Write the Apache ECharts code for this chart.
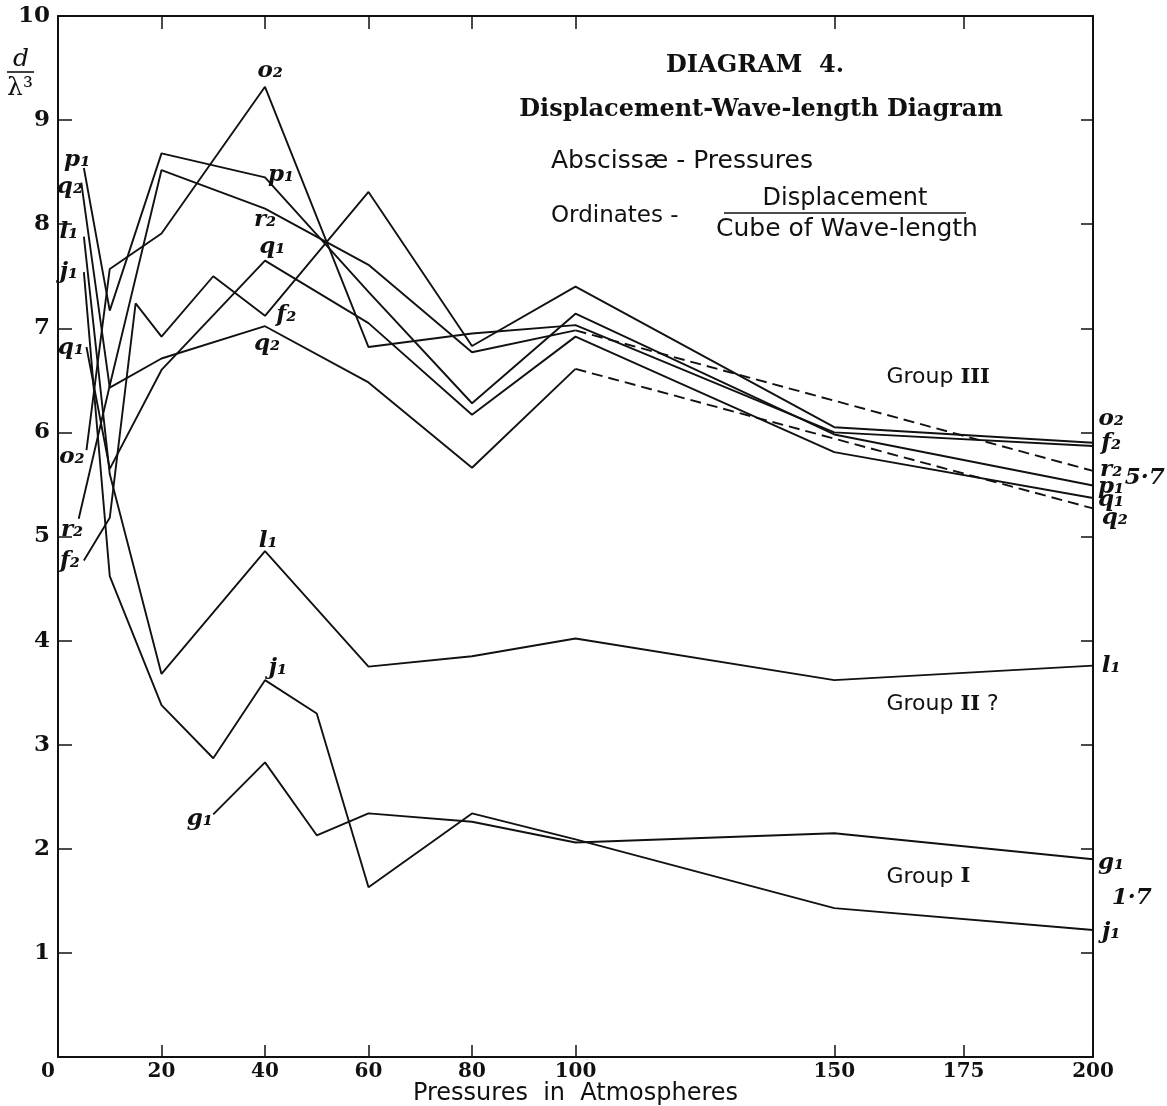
<!DOCTYPE html>
<html><head><meta charset="utf-8">
<script src="https://cdn.jsdelivr.net/npm/echarts@6/dist/echarts.min.js"></script>
<style>html,body{margin:0;padding:0;background:#fff}#chart{width:1167px;height:1106px}</style>
</head><body><div id="chart"></div>
<script>
// Pressure (atm) tick labels and ordinate ticks
const xTicks = [0, 20, 40, 60, 80, 100, 150, 175, 200];
const yTicks = [1, 2, 3, 4, 5, 6, 7, 8, 9, 10];

// Series: [pressure, displacement / cube of wave-length]
const o2 = [[5.5, 5.83], [10, 7.57], [20, 7.91], [40, 9.32], [60, 6.82], [80, 6.95], [100, 7.03], [150, 6.0], [200, 5.87]];
const f2 = [[5, 4.77], [10, 5.18], [15, 7.24], [20, 6.92], [30, 7.5], [40, 7.12], [60, 8.31], [80, 6.83], [100, 7.4], [150, 6.05], [200, 5.9]];
const r2 = [[4, 5.17], [10, 6.45], [20, 8.52], [40, 8.15], [60, 7.61], [80, 6.77], [100, 6.98]];
const r2Dashed = [[100, 6.98], [200, 5.63]];
const p1 = [[5, 8.54], [10, 7.17], [20, 8.68], [40, 8.45], [60, 7.35], [80, 6.28], [100, 7.14], [150, 5.98], [200, 5.49]];
const q1 = [[5.5, 6.82], [10, 5.65], [20, 6.6], [40, 7.65], [60, 7.05], [80, 6.17], [100, 6.92], [150, 5.81], [200, 5.37]];
const q2 = [[4.5, 8.4], [10, 6.43], [20, 6.71], [40, 7.02], [60, 6.48], [80, 5.66], [100, 6.61]];
const q2Dashed = [[100, 6.61], [200, 5.27]];
const l1 = [[5, 7.88], [10, 5.6], [20, 3.68], [40, 4.86], [60, 3.75], [80, 3.85], [100, 4.02], [150, 3.62], [200, 3.76]];
const j1 = [[5, 7.54], [10, 4.62], [20, 3.38], [30, 2.87], [40, 3.62], [50, 3.3], [60, 1.63], [80, 2.34], [100, 2.09], [150, 1.43], [200, 1.22]];
const g1 = [[30, 2.33], [40, 2.83], [50, 2.13], [60, 2.34], [80, 2.26], [100, 2.06], [150, 2.15], [200, 1.9]];

// Curve name labels placed in data space: [pressure, value, text]
const curveLabels = [
  [3.7, 8.62, 'p₁'], [2.3, 8.36, 'q₂'], [2.1, 7.92, 'l₁'], [2.1, 7.54, 'j₁'],
  [2.5, 6.81, 'q₁'], [2.7, 5.76, 'o₂'], [2.7, 5.06, 'r₂'], [2.3, 4.76, 'f₂'],
  [41, 9.47, 'o₂'], [43.1, 8.47, 'p₁'], [40, 8.04, 'r₂'], [41.4, 7.78, 'q₁'],
  [44.1, 7.13, 'f₂'], [40.4, 6.85, 'q₂'], [40.6, 4.96, 'l₁'], [42.5, 3.74, 'j₁'],
  [27.4, 2.29, 'g₁'],
  [203.5, 6.13, 'o₂'], [203.5, 5.9, 'f₂'], [203.5, 5.64, 'r₂'], [210, 5.56, '5·7'],
  [203.5, 5.48, 'p₁'], [203.5, 5.35, 'q₁'], [204.2, 5.18, 'q₂'],
  [203.5, 3.76, 'l₁'], [203.5, 1.86, 'g₁'], [207.5, 1.53, '1·7'], [203.5, 1.2, 'j₁']
];
// Group annotations: [pressure, value, roman numeral, suffix]
const groupLabels = [[160, 6.53, 'III', ''], [160, 3.39, 'II', ' ?'], [160, 1.73, 'I', '']];

const INK = '#111111';
const SANS = '"DejaVu Sans", "Open Sans", sans-serif';
const SERIF = '"DejaVu Serif", serif';
const chart = echarts.init(document.getElementById('chart'), null, {renderer: 'canvas'});

function lineSeries(name, data, dashed) {
  return {
    name: name, type: 'line', data: data, symbol: 'none', silent: true,
    lineStyle: {color: INK, width: 1.9, type: dashed ? [11, 6] : 'solid'},
    z: 3
  };
}

const serifBold = {fontFamily: SERIF, fontWeight: 'bold', color: INK};

const option = {
  animation: false,
  backgroundColor: '#ffffff',
  grid: {left: 58, right: 74, top: 16, bottom: 49, containLabel: false, outerBoundsMode: 'none'},
  xAxis: [{
    type: 'value', min: 0, max: 200, position: 'bottom',
    axisLine: {onZero: false, lineStyle: {color: INK, width: 2}},
    axisTick: {inside: true, length: 12, customValues: xTicks, lineStyle: {color: INK, width: 1.5}},
    axisLabel: Object.assign({customValues: xTicks, fontSize: 20, margin: 5,
      formatter: v => (v === 0 ? '{z|0}' : String(v)),
      rich: {z: {fontFamily: SERIF, fontWeight: 'bold', fontSize: 20, color: INK, padding: [0, 20, 0, 0]}}
    }, serifBold),
    splitLine: {show: false},
    name: 'Pressures  in  Atmospheres', nameLocation: 'middle', nameGap: 37, nameMoveOverlap: false,
    nameTextStyle: {fontFamily: SANS, fontSize: 24, color: INK, verticalAlign: 'middle'}
  }, {
    type: 'value', min: 0, max: 200, position: 'top',
    axisLine: {onZero: false, lineStyle: {color: INK, width: 2}},
    axisTick: {inside: true, length: 13, customValues: xTicks, lineStyle: {color: INK, width: 1.5}},
    axisLabel: {show: false}, splitLine: {show: false}
  }],
  yAxis: [{
    type: 'value', min: 0, max: 10, interval: 1, position: 'left',
    axisLine: {onZero: false, lineStyle: {color: INK, width: 2}},
    axisTick: {inside: true, length: 14, lineStyle: {color: INK, width: 1.5}},
    axisLabel: Object.assign({fontSize: 23, margin: 8, formatter: v => (yTicks.indexOf(v) >= 0 ? String(v) : '')}, serifBold),
    splitLine: {show: false}
  }, {
    type: 'value', min: 0, max: 10, interval: 1, position: 'right',
    axisLine: {onZero: false, lineStyle: {color: INK, width: 2}},
    axisTick: {inside: true, length: 12, lineStyle: {color: INK, width: 1.5}},
    axisLabel: {show: false}, splitLine: {show: false}
  }],
  series: [
    lineSeries('o2', o2), lineSeries('f2', f2), lineSeries('r2', r2), lineSeries('r2 extrapolated', r2Dashed, true),
    lineSeries('p1', p1), lineSeries('q1', q1), lineSeries('q2', q2), lineSeries('q2 extrapolated', q2Dashed, true),
    lineSeries('l1', l1), lineSeries('j1', j1), lineSeries('g1', g1),
    {
      type: 'scatter', name: 'curve labels', clip: false, silent: true, symbolSize: 1,
      itemStyle: {color: 'rgba(0,0,0,0)', opacity: 1},
      data: curveLabels.map(d => ({value: [d[0], d[1]], name: d[2]})),
      label: {show: true, position: 'inside', formatter: '{b}', fontSize: 23, fontStyle: 'italic', fontWeight: 'bold',
        fontFamily: SERIF, color: INK},
      labelLayout: {hideOverlap: false},
      z: 5
    },
    {
      type: 'scatter', name: 'group labels', clip: false, silent: true, symbolSize: 1,
      itemStyle: {color: 'rgba(0,0,0,0)', opacity: 1},
      data: groupLabels.map(d => ({value: [d[0], d[1]], name: d[2] + '|' + d[3]})),
      label: {
        show: true, position: 'right', distance: 0,
        formatter: p => { const s = p.name.split('|'); return '{g|Group }{r|' + s[0] + '}{g|' + s[1] + '}'; },
        rich: {
          g: {fontFamily: SANS, fontSize: 22, color: INK},
          r: {fontFamily: SERIF, fontWeight: 'bold', fontSize: 21, color: INK}
        }
      },
      z: 5
    }
  ],
  graphic: [
    {type: 'text', x: 755, y: 66, style: {text: 'DIAGRAM  4.', align: 'center', verticalAlign: 'middle',
      fontFamily: SERIF, fontWeight: 'bold', fontSize: 24, fill: INK}},
    {type: 'text', x: 761, y: 110, style: {text: 'Displacement-Wave-length Diagram', align: 'center', verticalAlign: 'middle',
      fontFamily: SERIF, fontWeight: 'bold', fontSize: 24, fill: INK}},
    {type: 'text', x: 551, y: 161, style: {text: 'Abscissæ - Pressures', align: 'left', verticalAlign: 'middle',
      fontFamily: SANS, fontSize: 25, fill: INK}},
    {type: 'text', x: 551, y: 216, style: {text: 'Ordinates -', align: 'left', verticalAlign: 'middle',
      fontFamily: SANS, fontSize: 23, fill: INK}},
    {type: 'text', x: 845, y: 199, style: {text: 'Displacement', align: 'center', verticalAlign: 'middle',
      fontFamily: SANS, fontSize: 24, fill: INK}},
    {type: 'line', shape: {x1: 724, y1: 213, x2: 966, y2: 213}, style: {stroke: INK, lineWidth: 1.5}},
    {type: 'text', x: 847, y: 229, style: {text: 'Cube of Wave-length', align: 'center', verticalAlign: 'middle',
      fontFamily: SANS, fontSize: 25, fill: INK}},
    {type: 'text', x: 21, y: 59, style: {text: 'd', align: 'center', verticalAlign: 'middle',
      fontFamily: SERIF, fontStyle: 'italic', fontSize: 25, fill: INK}},
    {type: 'line', shape: {x1: 7, y1: 72, x2: 34, y2: 72}, style: {stroke: INK, lineWidth: 1.6}},
    {type: 'text', x: 20, y: 88, style: {text: 'λ³', align: 'center', verticalAlign: 'middle',
      fontFamily: SERIF, fontSize: 25, fill: INK}}
  ]
};
chart.setOption(option);
</script>
</body></html>
